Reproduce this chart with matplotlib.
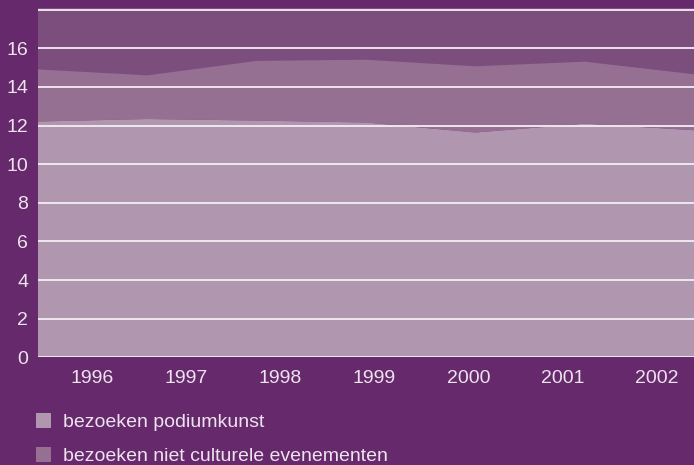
import matplotlib
matplotlib.use("Agg")
import matplotlib.pyplot as plt
import numpy as np

years = ["1996", "1997", "1998", "1999", "2000", "2001", "2002"]
podiumkunst = [12.21, 12.34, 12.26, 12.16, 11.64, 12.10, 11.76]
niet_cultureel = [2.70, 2.26, 3.09, 3.25, 3.43, 3.21, 2.90]
labels = ["bezoeken podiumkunst", "bezoeken niet culturele evenementen"]

BG = "#66296b"
TOP = "#7c4e7d"
C1 = "#b196b0"
C2 = "#957093"
TXT = "#ede3ee"

plt.rcParams['font.family'] = ['Liberation Sans', 'DejaVu Sans']

W, H = 694, 465
fig = plt.figure(figsize=(W / 100, H / 100), dpi=100, facecolor=BG)
left_px, right_px, bottom_px, top_px = 38, 694, 357.3, 8
ax = fig.add_axes([left_px / W, 1 - bottom_px / H, (right_px - left_px) / W, (bottom_px - top_px) / H])
ax.set_facecolor(TOP)

x = np.arange(len(years))
polys = ax.stackplot(x, podiumkunst, niet_cultureel, colors=[C1, C2], linewidth=0, zorder=1)

ax.set_xlim(0, len(years) - 1)
ax.set_ylim(0, 18.09)
ax.set_yticks(np.arange(0, 17, 2))
ax.yaxis.grid(False)
for v in np.arange(0, 19, 2):
    ax.axhline(v, color="#f4eef4", lw=1.3, zorder=3)

step = 0.862
ax.set_xticks([0.491 + i * step for i in range(len(years))])
ax.set_xticklabels(years)
ax.tick_params(axis='x', length=0, pad=9, labelsize=14, labelcolor=TXT)
ax.tick_params(axis='y', length=0, pad=7, labelsize=14, labelcolor=TXT)
for s in ax.spines.values():
    s.set_visible(False)

fig.legend(polys, labels, loc='upper left', bbox_to_anchor=(28 / W, 1 - 405 / H),
           frameon=False, fontsize=14, labelcolor=TXT, handlelength=0.8,
           handleheight=0.8, handletextpad=0.6, labelspacing=0.82, borderaxespad=0)

fig.savefig("out.png", dpi=100, facecolor=BG)
